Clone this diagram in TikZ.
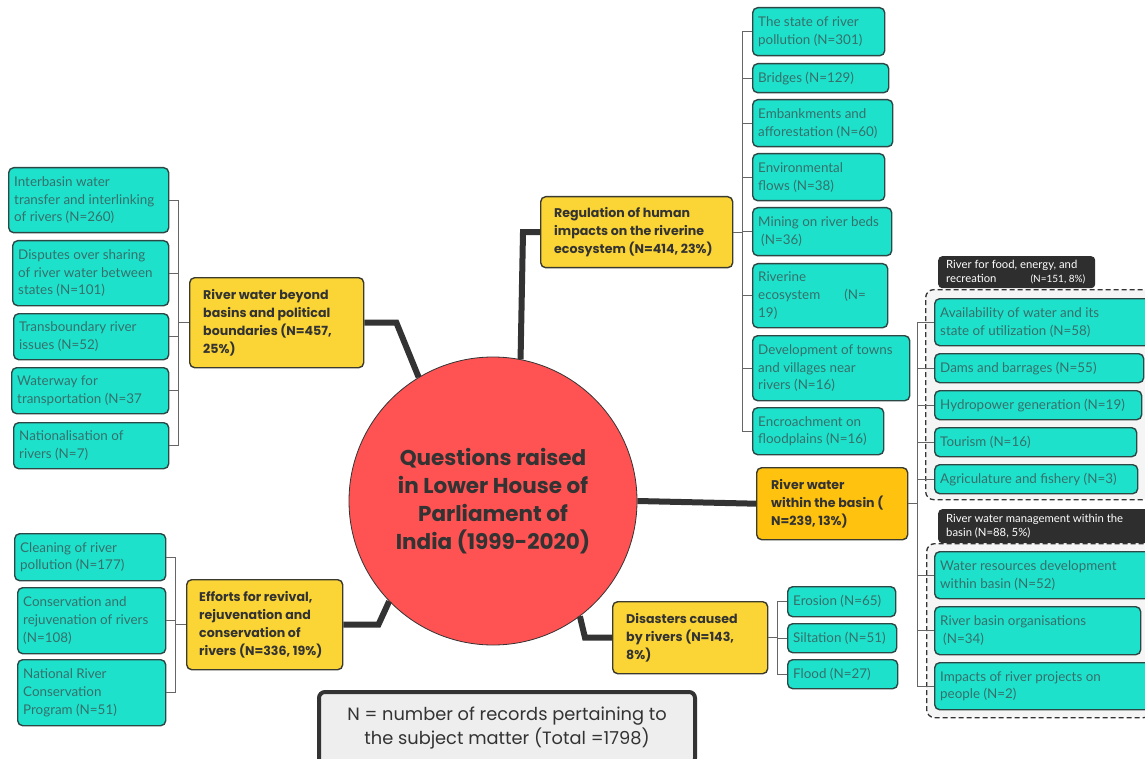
\documentclass[tikz,border=0pt]{standalone}
\usepackage{fontspec}
\setmainfont{Lato}
\newfontfamily\pop{Poppins}
\usetikzlibrary{calc}
\definecolor{leaf}{HTML}{1EE1CC}
\definecolor{leafline}{HTML}{2D4744}
\definecolor{leaftext}{HTML}{36706A}
\definecolor{yel}{HTML}{FBD535}
\definecolor{amber}{HTML}{FFC20E}
\definecolor{yline}{HTML}{3A3A2E}
\definecolor{dark}{HTML}{333333}
\definecolor{redc}{HTML}{FF5252}
\definecolor{lblfill}{HTML}{2E2E2E}
\definecolor{dashfill}{HTML}{F5F5F5}
\definecolor{legfill}{HTML}{EEEEEE}
% style, padding, name, x1, y1, x2, y2, text
\newcommand\bx[8]{%
  \pgfmathsetmacro\bw{#6-#4}%
  \pgfmathsetmacro\bh{#7-#5}%
  \node[#1, inner sep=0pt, anchor=north west, minimum width=\bw pt, minimum height=\bh pt] (#3) at (#4,#5) {};%
  \node[#1 text, inner sep=0pt, anchor=west, align=left] (#3t) at ([xshift=#2pt]#3.west) {#8};%
}
\begin{document}
\begin{tikzpicture}[x=1pt,y=-1pt,
  leafbox/.style={draw=leafline, fill=leaf, rounded corners=5pt, line width=1.4pt},
  leafbox text/.style={font=\fontsize{13.4}{17.8}\selectfont, text=leaftext},
  ybox/.style={draw=yline, fill=yel, rounded corners=5pt, line width=1.4pt},
  ybox text/.style={font=\pop\bfseries\fontsize{12.6}{18}\selectfont, text=dark},
  abox/.style={ybox, fill=amber},
  abox text/.style={ybox text},
  lblbox/.style={fill=lblfill, rounded corners=4pt},
  lblbox text/.style={font=\fontsize{11.3}{13.5}\selectfont, text=white},
  dashbox/.style={draw=dark, dash pattern=on 5pt off 3pt, line width=1.3pt, fill=dashfill, rounded corners=8pt},
  brk/.style={draw=black!60, line width=0.9pt},
  conn/.style={draw=dark, line width=6pt, line join=miter},
]
\useasboundingbox (0,0) rectangle (1145,759);
\fill[white] (0,0) rectangle (1145,759);

% dashed group frames
\node[dashbox, anchor=north west, minimum width=225pt, minimum height=210pt] (D1) at (925,289) {};
\node[dashbox, anchor=north west, minimum width=225pt, minimum height=174pt] (D2) at (926,543) {};
\bx{lblbox}{8}{L1}{938}{256}{1095}{288}{River for food, energy, and\\recreation\hspace{34pt}{\fontsize{10}{13}\selectfont(N=151, 8\%)}}
\bx{lblbox}{8}{L2}{938}{509}{1152}{543}{River water management within the\\basin (N=88, 5\%)}

% centre
\node[circle, draw=dark, line width=0.8pt, fill=redc, minimum size=288pt, align=center,
  font=\pop\bfseries\fontsize{21.5}{28}\selectfont, text=dark] (c) at (493,501)
  {Questions raised\\in Lower House of\\Parliament of\\India (1999-2020)};

% main branches
\bx{ybox}{14}{Y1}{189}{277}{363}{367}{River water beyond\\basins and political\\boundaries (N=457,\\25\%)}
\bx{ybox}{14}{Y2}{540}{196}{732}{267}{Regulation of human\\impacts on the riverine\\ecosystem (N=414, 23\%)}
\bx{abox}{15}{Y3}{756}{467}{907}{539}{River water\\within the basin (\\N=239, 13\%)}
\bx{ybox}{14}{Y4}{612}{601}{767}{673}{Disasters caused\\by rivers (N=143,\\8\%)}
\bx{ybox}{13}{Y5}{186}{579}{342}{669}{Efforts for revival,\\rejuvenation and\\conservation of\\rivers (N=336, 19\%)}

% thick connectors
\draw[conn] (Y1.east) -- ++(32,0) -- (c.121);
\draw[conn] (c.79) -- ([xshift=-17pt]Y2.west) -- (Y2.west);
\draw[conn] (c.east) -- (Y3.west);
\draw[conn] (c.-53) -- ([xshift=-27pt]Y4.west) -- (Y4.west);
\draw[conn] (Y5.east) -- ++(35,0) -- (c.-136);

% left group
\bx{leafbox}{6}{A1}{8}{167}{168}{232}{Interbasin water\\transfer and interlinking\\of rivers (N=260)}
\bx{leafbox}{6}{A2}{12}{240}{168}{305}{Disputes over sharing\\of river water between\\states (N=101)}
\bx{leafbox}{6}{A3}{13}{313}{168}{359}{Transboundary river\\issues (N=52)}
\bx{leafbox}{6}{A4}{11}{367}{168}{413}{Waterway for\\transportation (N=37}
\bx{leafbox}{6}{A5}{13}{422}{168}{468}{Nationalisation of\\rivers (N=7)}
\coordinate (bA) at (178,0);
\draw[brk] (A1.east -| bA) -- (A5.east -| bA);
\foreach \n in {A1,A2,A3,A4,A5} \draw[brk] (\n.east) -- (\n.east -| bA);
\draw[brk] (Y1.west -| bA) -- (Y1.west);

% top-right group
\bx{leafbox}{6}{B1}{752}{7}{884}{55}{The state of river\\pollution (N=301)}
\bx{leafbox}{6}{B2}{752}{63}{888}{92}{Bridges (N=129)}
\bx{leafbox}{6}{B3}{752}{99}{892}{146}{Embankments and\\afforestation (N=60)}
\bx{leafbox}{6}{B4}{752}{153}{884}{200}{Environmental\\flows (N=38)}
\bx{leafbox}{6}{B5}{752}{207}{891}{255}{Mining on river beds\\\hspace*{3pt}(N=36)}
\bx{leafbox}{6}{B6}{752}{263}{887}{327}{Riverine\\ecosystem\hspace{24pt}(N=\\19)}
\bx{leafbox}{6}{B7}{752}{335}{909}{400}{Development of towns\\and villages near\\rivers (N=16)}
\bx{leafbox}{6}{B8}{752}{407}{883}{454}{Encroachment on\\floodplains (N=16)}
\coordinate (bB) at (742,0);
\draw[brk] (B1.west -| bB) -- (B8.west -| bB);
\foreach \n in {B1,B2,B3,B4,B5,B6,B7,B8} \draw[brk] (\n.west -| bB) -- (\n.west);
\draw[brk] (Y2.east) -- (Y2.east -| bB);

% right groups
\coordinate (bC) at (917,0);
\bx{leafbox}{6}{C1}{934}{298}{1152}{345}{Availability of water and its\\state of utilization (N=58)}
\bx{leafbox}{6}{C2}{934}{353}{1143}{382}{Dams and barrages (N=55)}
\bx{leafbox}{6}{C3}{934}{390}{1141}{419}{Hydropower generation (N=19)}
\bx{leafbox}{6}{C4}{934}{427}{1136}{456}{Tourism (N=16)}
\bx{leafbox}{6}{C5}{934}{464}{1137}{493}{Agriculature and fishery (N=3)}
\bx{leafbox}{6}{E1}{934}{551}{1152}{598}{Water resources development\\within basin (N=52)}
\bx{leafbox}{6}{E2}{934}{606}{1140}{654}{River basin organisations\\\hspace*{3pt}(N=34)}
\bx{leafbox}{6}{E3}{934}{662}{1152}{709}{Impacts of river projects on\\people (N=2)}
\draw[brk] (C1.west -| bC) -- (E3.west -| bC);
\foreach \n in {C1,C2,C3,C4,C5,E1,E2,E3} \draw[brk] (\n.west -| bC) -- (\n.west);
\draw[brk] (Y3.east) -- (Y3.east -| bC);

% disasters group
\bx{leafbox}{6}{F1}{787}{586}{895}{616}{Erosion (N=65)}
\bx{leafbox}{6}{F2}{787}{623}{896}{652}{Siltation (N=51)}
\bx{leafbox}{6}{F3}{787}{659}{897}{688}{Flood (N=27)}
\coordinate (bF) at (777,0);
\draw[brk] (F1.west -| bF) -- (F3.west -| bF);
\foreach \n in {F1,F2,F3} \draw[brk] (\n.west -| bF) -- (\n.west);
\draw[brk] (Y4.east) -- (Y4.east -| bF);

% bottom-left group
\bx{leafbox}{6}{G1}{14}{533}{165}{580}{Cleaning of river\\pollution (N=177)}
\bx{leafbox}{6}{G2}{17}{587}{165}{653}{Conservation and\\rejuvenation of rivers\\(N=108)}
\bx{leafbox}{6}{G3}{17}{659}{165}{725}{National River\\Conservation\\Program (N=51)}
\coordinate (bG) at (175,0);
\draw[brk] (G1.east -| bG) -- (G3.east -| bG);
\foreach \n in {G1,G2,G3} \draw[brk] (\n.east) -- (\n.east -| bG);
\draw[brk] (Y5.west -| bG) -- (Y5.west);

% legend
\node[draw=dark, line width=4pt, fill=legfill, rounded corners=6pt, anchor=north west,
  minimum width=376pt, minimum height=72pt, align=center,
  font=\pop\fontsize{17.8}{24}\selectfont, text=dark] (leg) at (317,690)
  {N = number of records pertaining to\\the subject matter (Total =1798)};
\end{tikzpicture}
\end{document}
